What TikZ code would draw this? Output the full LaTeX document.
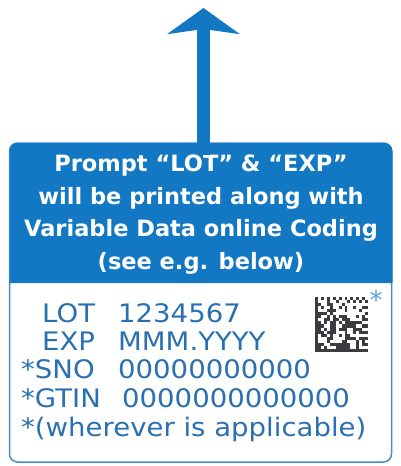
\documentclass[tikz,border=0pt]{standalone}
\usepackage{fontspec}
\setmainfont{DejaVu Sans}
\newfontfamily\codefont[FakeStretch=1.08]{DejaVu Sans}
\usetikzlibrary{arrows.meta,positioning}

\definecolor{hdrblue}{RGB}{18,120,196}
\definecolor{txtblue}{RGB}{42,112,176}
\definecolor{rimblue}{RGB}{72,142,204}
\definecolor{starblue}{RGB}{90,160,220}
\definecolor{dotgray}{RGB}{60,60,64}

\begin{document}
\begin{tikzpicture}[x=1pt, y=-1pt]
        \tikzstyle{hdrtext}=[text=white, align=center, inner sep=0pt, font=\fontsize{22.5}{32.5}\selectfont\bfseries]
        \tikzstyle{codeline}=[text=txtblue, anchor=base west, inner sep=0pt, font=\codefont\fontsize{25.5}{28}\selectfont]
        \tikzstyle{uparrow}=[draw=hdrblue, line width=13pt, -{Stealth[length=26pt, width=72pt, inset=5pt]}]
        \useasboundingbox (0,0) rectangle (401,466);
        % panel and header
        \draw[rimblue, line width=1.5pt, rounded corners=8pt, fill=white] (9.5,143) rectangle (391.5,462);
        \fill[hdrblue] (9.5,283) [rounded corners=8pt] -- (9.5,143) -- (392.5,143) [sharp corners] -- (392.5,283) -- cycle;
        \node[hdrtext, anchor=north] (hdr) at (201,155)
          {Prompt “LOT” \& “EXP”\\will be printed along with\\Variable Data online Coding\\(see e.g. below)};
        % arrow up
        \coordinate (tip) at (203.5,8);
        \draw[uparrow] (hdr.north -| tip) -- (tip);
        % coded lines
        \node[codeline] (lotlbl)  at (42,322)  {LOT};
        \node[codeline] (lotval)  at (118,322) {1234567};
        \node[codeline] (explbl)  at (42,350)  {EXP};
        \node[codeline] (expval)  at (118,350) {MMM.YYYY};
        \node[codeline] (snolbl)  at (21,378)  {*SNO};
        \node[codeline] (snoval)  at (118,378) {00000000000};
        \node[codeline] (gtinlbl) at (21,407)  {*GTIN};
        \node[codeline] (gtinval) at (122,407) {0000000000000};
        \node[codeline] (note)    at (21,436)  {*(wherever is applicable)};
        % data matrix
        \pgfmathsetseed{4711}
        \foreach \i in {0,...,17}{
          \foreach \j in {0,...,17}{
            \pgfmathtruncatemacro\dot{rnd<0.5}
            \ifnum\i=0 \def\dot{1}\fi
            \ifnum\j=17 \def\dot{1}\fi
            \ifnum\j=0 \pgfmathtruncatemacro\dot{mod(\i+1,2)}\fi
            \ifnum\i=17 \pgfmathtruncatemacro\dot{mod(\j,2)}\fi
            \ifnum\dot=1
              \fill[dotgray] (315+\i*2.95,297+\j*3.05) rectangle ++(2.95,3.05);
            \fi
          }
        }
        \node[text=starblue, inner sep=0pt, font=\fontsize{26}{26}\selectfont] (mstar) at (376,300) {*};
\end{tikzpicture}
\end{document}
